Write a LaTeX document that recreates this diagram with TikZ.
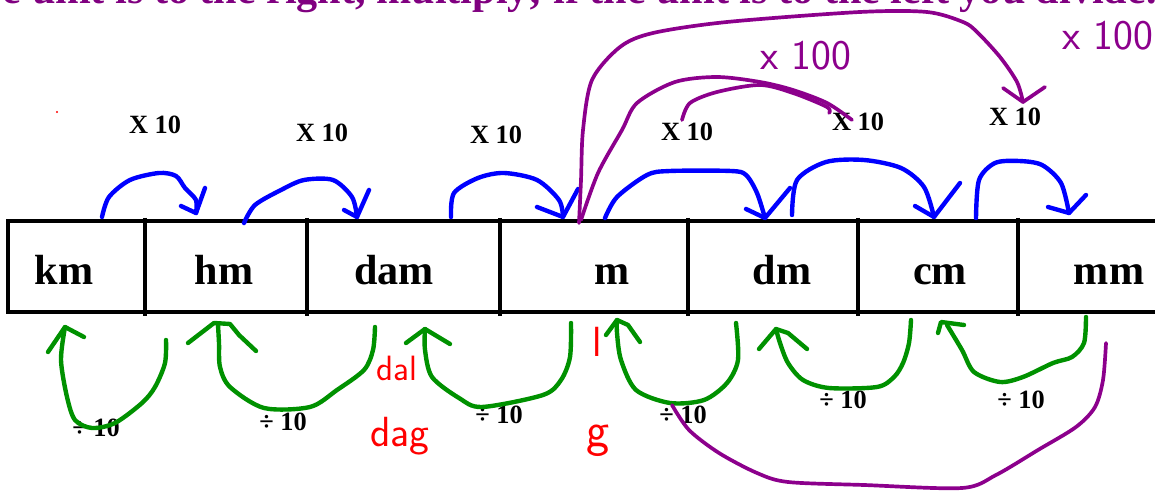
\documentclass[tikz,border=0pt]{standalone}
\usepackage{fontspec}
\setmainfont{Liberation Serif}
\usetikzlibrary{calc}

\definecolor{inkblue}{RGB}{0,0,255}
\definecolor{inkgreen}{RGB}{0,145,0}
\definecolor{inkpurple}{RGB}{140,0,140}
\definecolor{headpurple}{RGB}{128,0,128}
\definecolor{inkred}{RGB}{255,0,0}

\begin{document}
\begin{tikzpicture}[x=0.02cm,y=-0.02cm,
  pen/.style={line width=2.5pt,line cap=round,line join=round},
  mulpen/.style={pen,draw=inkblue},
  divpen/.style={pen,draw=inkgreen},
  bigpen/.style={line width=2.1pt,line cap=round,line join=round,draw=inkpurple},
  unitlabel/.style={font=\bfseries\fontsize{24}{28}\selectfont,anchor=base,inner sep=0pt},
  factor/.style={font=\bfseries\fontsize{15}{18}\selectfont,inner sep=0pt},
  scribble/.style={font=\sffamily\fontsize{24}{28}\selectfont,inner sep=0pt}]

\useasboundingbox (0,0) rectangle (1155,492);
\clip (0,0) rectangle (1155,492);

% Heading, cut at the top
\node[anchor=base east,text=headpurple,font=\bfseries\fontsize{24}{28}\selectfont,inner sep=0pt]
  (heading) at (1157,4) {e unit is to the right, multiply; if the unit is to the left you divide.};

% Table
\draw[line width=2.3pt] (1160,221) -- (8,221) -- (8,312) -- (1160,312);
\foreach \x in {145,307,500,688,858,1018}
  \draw[line width=2.3pt] (\x,218) -- (\x,316);

\node[unitlabel] (km)  at (64,285)   {km};
\node[unitlabel] (hm)  at (224,285)  {hm};
\node[unitlabel] (dam) at (394,285)  {dam};
\node[unitlabel] (m)   at (612,285)  {m};
\node[unitlabel] (dm)  at (782,285)  {dm};
\node[unitlabel] (cm)  at (940,285)  {cm};
\node[unitlabel] (mm)  at (1109,285) {mm};

% Multiply labels
\node[factor] (mul1) at (155,125)  {X 10};
\node[factor] (mul2) at (322,133)  {X 10};
\node[factor] (mul3) at (496,135)  {X 10};
\node[factor] (mul4) at (687,132)  {X 10};
\node[factor] (mul5) at (858,122)  {X 10};
\node[factor] (mul6) at (1015,117) {X 10};

% Divide labels
\node[factor] (div1) at (96,428)   {÷ 10};
\node[factor] (div2) at (283,422)  {÷ 10};
\node[factor] (div3) at (499,415)  {÷ 10};
\node[factor] (div4) at (683,415)  {÷ 10};
\node[factor] (div5) at (843,400)  {÷ 10};
\node[factor] (div6) at (1021,400) {÷ 10};

% Blue hops (multiply)
\draw[mulpen] plot[smooth] coordinates {(102,217) (109,197) (130,180) (159,173) (176,176) (185,188) (196,200) (196,213)};
\draw[mulpen] (181,206) -- (196,213) -- (205,188);
\draw[mulpen] plot[smooth] coordinates {(244,223) (255,205) (281,190) (304,180) (333,180) (352,197) (357,217)};
\draw[mulpen] (344,210) -- (357,217) -- (369,190);
\draw[mulpen] plot[smooth] coordinates {(451,217) (454,193) (478,178) (504,173) (537,180) (559,200) (563,217)};
\draw[mulpen] (537,207) -- (563,217) -- (578,189);
\draw[mulpen] plot[smooth] coordinates {(605,218) (617,197) (647,175) (670,171) (731,171) (746,175) (757,193) (765,218)};
\draw[mulpen] (746,209) -- (765,218) -- (790,188);
\draw[mulpen] plot[smooth] coordinates {(792,215) (797,180) (826,162) (864,160) (901,168) (924,187) (934,217)};
\draw[mulpen] (915,206) -- (934,217) -- (960,183);
\draw[mulpen] plot[smooth] coordinates {(976,218) (979,180) (995,163) (1019,161) (1042,165) (1061,183) (1069,213)};
\draw[mulpen] (1048,207) -- (1069,213) -- (1086,195);

% Green hops (divide)
\draw[divpen] plot[smooth] coordinates {(166,340) (165,363) (155,387) (142,403) (115,423) (92,428) (75,420) (67,397) (61,360) (65,327)};
\draw[divpen] (48,352) -- (65,327) -- (84,337);
\draw[divpen] plot[smooth] coordinates {(375,327) (373,350) (364,370) (337,390) (310,407) (264,408) (230,387) (220,367) (219,343) (218,325)};
\draw[divpen] (188,343) -- (214,323) -- (230,324) -- (239,335) -- (256,351);
\draw[divpen] plot[smooth] coordinates {(571,323) (570,357) (561,380) (543,395) (482,407) (459,398) (432,377) (425,350) (425,329)};
\draw[divpen] (406,343) -- (425,329) -- (450,344);
\draw[divpen] plot[smooth] coordinates {(736,323) (738,360) (727,383) (704,400) (670,403) (636,390) (621,360) (617,333) (617,320)};
\draw[divpen] (606,335) -- (617,320) -- (628,325) -- (640,342);
\draw[divpen] plot[smooth] coordinates {(911,320) (909,343) (903,363) (894,377) (877,387) (829,388) (803,380) (788,363) (780,343) (776,329)};
\draw[divpen] (759,349) -- (776,329) -- (788,333) -- (807,349);
\draw[divpen] plot[smooth] coordinates {(1086,317) (1084,343) (1072,357) (1053,363) (1023,377) (1000,382) (974,372) (962,350) (947,325)};
\draw[divpen] (938,333) -- (941,322) -- (964,325);

% Purple jumps
\draw[bigpen] plot[smooth] coordinates {(579,223) (581,180) (583,130) (592,80) (620,47) (653,33) (727,22) (860,12) (927,12) (963,22) (977,32) (1000,57) (1017,82) (1023,102)};
\draw[bigpen] (1003,88) -- (1023,102) -- (1045,87);
\draw[bigpen] plot[smooth] coordinates {(581,220) (598,173) (622,130) (637,103) (675,82) (717,77) (760,82) (793,90) (827,103) (852,120)};
\draw[bigpen] plot[smooth] coordinates {(682,120) (690,103) (717,92) (760,85) (793,93) (827,107) (829,113)};
\draw[bigpen] plot[smooth] coordinates {(1106,343) (1103,380) (1095,407) (1076,427) (1038,450) (996,475) (962,488) (864,485) (788,482) (757,473) (719,453) (689,430) (672,405)};

\node[scribble,text=inkpurple] (hundred) at (806,56) {x 100};
\node[scribble,text=inkpurple,anchor=west] (thousand) at (1062,36) {x 100};

% Red notes
\node[scribble,text=inkred,anchor=base,font=\sffamily\fontsize{20}{24}\selectfont] (dal) at (397,381) {dal};
\node[scribble,text=inkred,anchor=base] (dag) at (400,447) {dag};
\node[scribble,text=inkred,anchor=base] (ell) at (597,357) {l};
\node[scribble,text=inkred,anchor=base,font=\sffamily\fontsize{28}{32}\selectfont] (gram) at (598,447) {g};
\fill[inkred] (57,112) circle (0.6pt);

\end{tikzpicture}
\end{document}
